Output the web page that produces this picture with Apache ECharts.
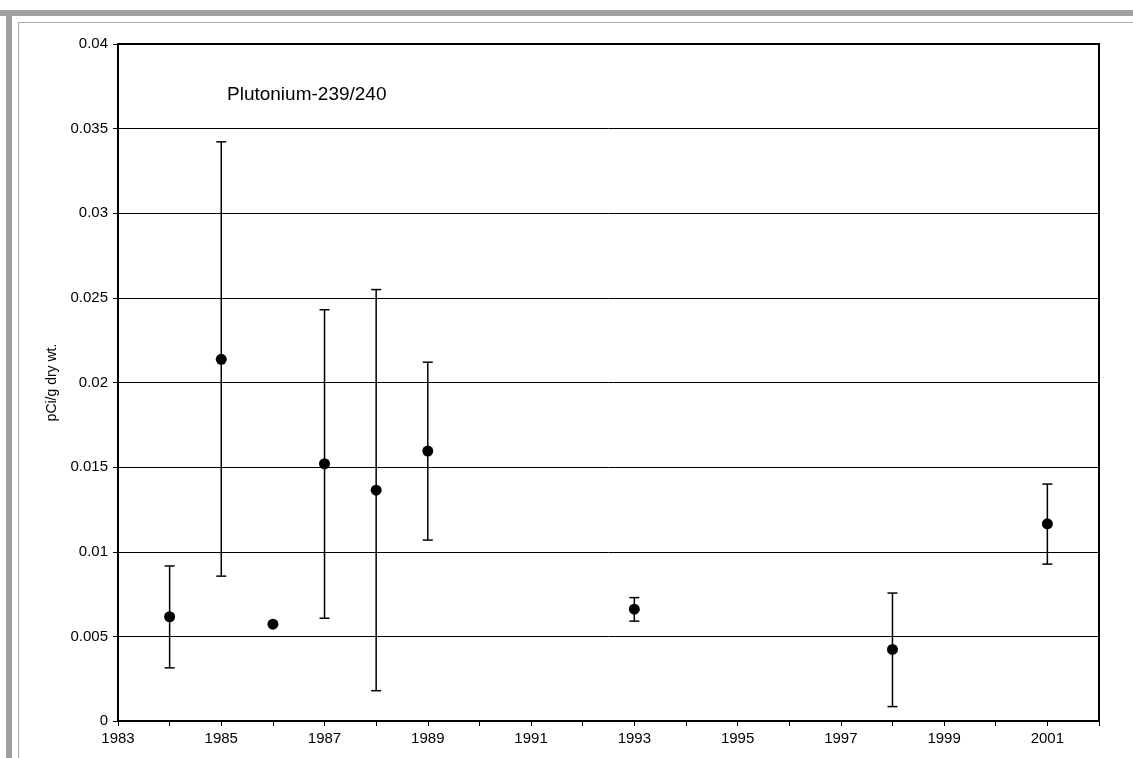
<!DOCTYPE html>
<html style="height: 100%">
<head>
    <meta charset="utf-8">
</head>
<body style="height: 100%; margin: 0; background: #fff">
<div id="container" style="width: 1133px; height: 758px"></div>
<script type="text/javascript" src="https://cdn.jsdelivr.net/npm/echarts@6/dist/echarts.min.js"></script>
<script type="text/javascript">
    // sample years and Pu-239/240 concentrations (pCi/g dry wt.)
    var years = [1984, 1985, 1986, 1987, 1988, 1989, 1993, 1998, 2001];
    var values = [0.00616, 0.02137, 0.00572, 0.0152, 0.01364, 0.01595, 0.00661, 0.00423, 0.01165];
    var upper = [0.00916, 0.03422, null, 0.0243, 0.02549, 0.0212, 0.00729, 0.00756, 0.014];
    var lower = [0.00314, 0.00856, null, 0.00607, 0.00179, 0.01069, 0.0059, 0.00085, 0.00927];

    var font = "'Liberation Sans', Arial, sans-serif";

    var dom = document.getElementById("container");
    var myChart = echarts.init(dom);

    var points = [];
    var bars = [];
    for (var i = 0; i < years.length; i++) {
        points.push([years[i], values[i]]);
        if (upper[i] != null) {
            bars.push([years[i], lower[i], upper[i]]);
        }
    }

    var option = {
        backgroundColor: '#fff',
        animation: false,
        title: {
            text: 'Plutonium-239/240',
            left: 222,
            top: 80,
            textStyle: { fontFamily: font, fontSize: 19, fontWeight: 'normal', color: '#000' }
        },
        graphic: [
            { type: 'rect', shape: { x: 0, y: 10, width: 1133, height: 6 }, style: { fill: '#a0a0a0' } },
            { type: 'rect', shape: { x: 6, y: 10, width: 6, height: 748 }, style: { fill: '#a0a0a0' } },
            { type: 'rect', shape: { x: 18, y: 22, width: 1115, height: 1 }, style: { fill: '#a8a8a8' } },
            { type: 'rect', shape: { x: 18, y: 22, width: 1, height: 736 }, style: { fill: '#a8a8a8' } }
        ],
        grid: {
            left: 118, top: 44, right: 34, bottom: 37,
            show: true, borderColor: '#000', borderWidth: 2
        },
        xAxis: {
            type: 'value',
            min: 1983, max: 2002, interval: 1,
            axisLine: { lineStyle: { color: '#000', width: 2 } },
            axisTick: { length: 5, lineStyle: { color: '#000', width: 1 } },
            axisLabel: {
                color: '#000', fontFamily: font, fontSize: 15, margin: 10,
                formatter: function (v) { return v % 2 === 1 ? String(v) : ''; }
            },
            splitLine: { show: false }
        },
        yAxis: {
            type: 'value',
            min: 0, max: 0.04, interval: 0.005,
            name: 'pCi/g dry wt.',
            nameLocation: 'middle',
            nameGap: 57,
            nameTextStyle: { color: '#000', fontFamily: font, fontSize: 14 },
            axisLine: { show: true, lineStyle: { color: '#000', width: 2 } },
            axisTick: { show: true, length: 5, lineStyle: { color: '#000', width: 1 } },
            axisLabel: {
                color: '#000', fontFamily: font, fontSize: 15, margin: 10,
                formatter: function (v) { return String(parseFloat(v.toFixed(4))); }
            },
            splitLine: { lineStyle: { color: '#000', width: 1 } }
        },
        series: [
            {
                type: 'custom',
                data: bars,
                z: 2,
                renderItem: function (params, api) {
                    var x = api.value(0);
                    var lo = api.coord([x, api.value(1)]);
                    var hi = api.coord([x, api.value(2)]);
                    var cap = 5;
                    var style = { stroke: '#000', lineWidth: 1.5 };
                    return {
                        type: 'group',
                        children: [
                            { type: 'line', shape: { x1: hi[0], y1: hi[1], x2: lo[0], y2: lo[1] }, style: style },
                            { type: 'line', shape: { x1: hi[0] - cap, y1: hi[1], x2: hi[0] + cap, y2: hi[1] }, style: style },
                            { type: 'line', shape: { x1: lo[0] - cap, y1: lo[1], x2: lo[0] + cap, y2: lo[1] }, style: style }
                        ]
                    };
                }
            },
            {
                type: 'scatter',
                data: points,
                symbol: 'circle',
                symbolSize: 11,
                z: 3,
                itemStyle: { color: '#000', opacity: 1 }
            }
        ]
    };
    myChart.setOption(option, true);
</script>
</body>
</html>
